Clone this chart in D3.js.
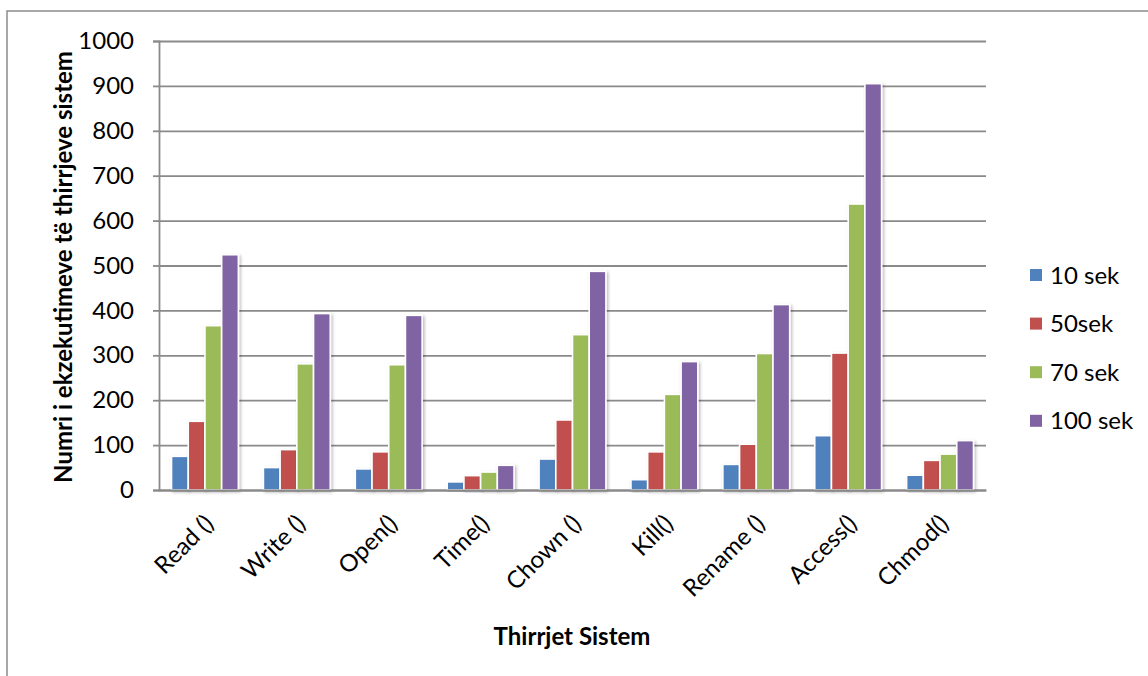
<!DOCTYPE html>
<html>
<head>
<meta charset="utf-8">
<script src="https://cdn.jsdelivr.net/npm/d3@7"></script>
<style>
  html, body { margin: 0; padding: 0; background: #fff; }
  svg { display: block; font-family: Lato, "Open Sans", sans-serif; }
</style>
</head>
<body>
<svg id="chart" width="1148" height="676"></svg>
<script>
// System calls measured at four run durations
const categories = ["Read ()", "Write ()", "Open()", "Time()", "Chown ()", "Kill()", "Rename ()", "Access()", "Chmod()"];
const seriesNames = ["10 sek", "50sek", "70 sek", "100 sek"];
const values10 = [75, 50, 47, 18, 69, 23, 57, 121, 33];
const values50 = [153, 90, 85, 32, 156, 85, 102, 305, 66];
const values70 = [366, 281, 279, 40, 346, 213, 304, 637, 80];
const values100 = [524, 393, 389, 55, 487, 286, 413, 905, 110];
const yTicks = [0, 100, 200, 300, 400, 500, 600, 700, 800, 900, 1000];
const colors = ["#4f81bd", "#c0504d", "#9bbb59", "#8064a2"];

const seriesValues = [values10, values50, values70, values100];
const rows = categories.map((c, i) => ({
  cat: c,
  vals: seriesNames.map((s, k) => ({ series: s, k, v: seriesValues[k][i] }))
}));

const svg = d3.select("#chart");
const plot = { left: 159, right: 986, top: 41, bottom: 490 };
const labelSize = 24;
const titleSize = 24;

// Outer chart frame (runs off the right and bottom edges)
svg.append("rect")
  .attr("x", 7).attr("y", 11)
  .attr("width", 1160).attr("height", 700)
  .attr("fill", "#fff")
  .attr("stroke", "#8c8c8c").attr("stroke-width", 1.5);

const defs = svg.append("defs");
const shadow = defs.append("filter").attr("id", "barShadow")
  .attr("x", "-30%").attr("y", "-10%").attr("width", "160%").attr("height", "130%");
shadow.append("feDropShadow")
  .attr("dx", 1.5).attr("dy", 1.5).attr("stdDeviation", 1.6)
  .attr("flood-color", "#000").attr("flood-opacity", 0.28);

const x = d3.scaleBand()
  .domain(categories)
  .range([plot.left, plot.right])
  .paddingInner(0.2727)
  .paddingOuter(0.1364);

const xs = d3.scaleBand()
  .domain(seriesNames)
  .range([0, x.bandwidth()]);

const y = d3.scaleLinear()
  .domain([0, 1000])
  .range([plot.bottom, plot.top]);

// Horizontal gridlines
svg.append("g")
  .attr("transform", `translate(${plot.left},0)`)
  .call(d3.axisLeft(y).tickValues(yTicks).tickSize(-(plot.right - plot.left)).tickFormat(""))
  .call(g => g.select(".domain").remove())
  .call(g => g.selectAll("line").attr("stroke", "#8a8a8a").attr("stroke-width", 1.8));

// Bars
const groups = svg.append("g").selectAll("g")
  .data(rows).join("g")
  .attr("transform", d => `translate(${x(d.cat)},0)`);

groups.selectAll("rect")
  .data(d => d.vals).join("rect")
  .attr("x", d => xs(d.series))
  .attr("y", d => y(d.v))
  .attr("width", xs.bandwidth())
  .attr("height", d => y(0) - y(d.v))
  .attr("fill", d => colors[d.k])
  .attr("stroke", "#fff")
  .attr("stroke-width", 1.6)
  .attr("filter", "url(#barShadow)");

// Y axis
const yAxis = svg.append("g")
  .attr("transform", `translate(${plot.left},0)`)
  .call(d3.axisLeft(y).tickValues(yTicks).tickFormat(d3.format("d")).tickSize(6).tickPadding(19));
yAxis.select(".domain").attr("stroke", "#8a8a8a").attr("stroke-width", 1.8);
yAxis.selectAll(".tick line").attr("stroke", "#8a8a8a").attr("stroke-width", 1.8);
yAxis.selectAll(".tick text")
  .attr("font-family", "Lato, sans-serif")
  .attr("font-size", labelSize)
  .attr("fill", "#000");

// X axis
const xAxis = svg.append("g")
  .attr("transform", `translate(0,${plot.bottom})`)
  .call(d3.axisBottom(x).tickSize(0).tickFormat(""));
xAxis.select(".domain").attr("stroke", "#8a8a8a").attr("stroke-width", 1.8);

svg.append("g").selectAll("text")
  .data(categories).join("text")
  .attr("transform", d => `translate(${x(d) + x.bandwidth() / 2 - 2},${plot.bottom + 23}) rotate(-45)`)
  .attr("text-anchor", "end")
  .attr("dy", "0.71em")
  .attr("font-size", labelSize)
  .attr("fill", "#000")
  .text(d => d);

// Axis titles
svg.append("text")
  .attr("x", 572).attr("y", 645)
  .attr("text-anchor", "middle")
  .attr("font-size", titleSize).attr("font-weight", "bold")
  .attr("fill", "#000")
  .text("Thirrjet Sistem");

svg.append("text")
  .attr("transform", "translate(72,267) rotate(-90)")
  .attr("text-anchor", "middle")
  .attr("font-size", titleSize).attr("font-weight", "bold")
  .attr("fill", "#000")
  .text("Numri i ekzekutimeve të thirrjeve sistem");

// Legend
const legend = svg.append("g").selectAll("g")
  .data(seriesNames).join("g")
  .attr("transform", (d, i) => `translate(1030,${275 + i * 48.6})`);
legend.append("rect")
  .attr("x", 0).attr("y", -6)
  .attr("width", 12).attr("height", 12)
  .attr("fill", (d, i) => colors[i]);
legend.append("text")
  .attr("x", 20).attr("dy", "0.36em")
  .attr("font-size", labelSize).attr("fill", "#000")
  .text(d => d);
</script>
</body>
</html>
